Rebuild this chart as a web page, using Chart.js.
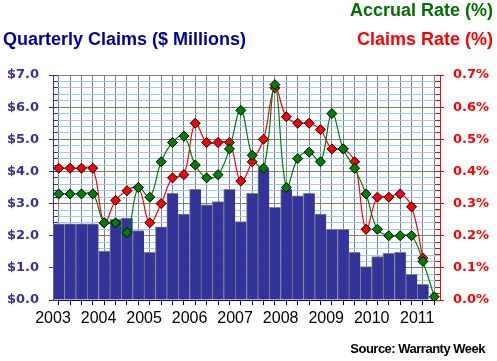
<!DOCTYPE html>
<html><head><meta charset="utf-8">
<script src="https://cdn.jsdelivr.net/npm/chart.js@4/dist/chart.umd.min.js"></script>
<style>
html,body{margin:0;padding:0;background:#fff;}
#wrap{position:relative;width:497px;height:361px;overflow:hidden;background:#fff;}
#c{position:absolute;left:0;top:0;}
.t{position:absolute;font-family:"Liberation Sans",Arial,sans-serif;font-weight:bold;white-space:nowrap;}
</style></head><body>
<div id="wrap">
<canvas id="c" width="497" height="361"></canvas>
<div class="t" style="right:4px;top:1px;font-size:18px;line-height:18px;color:#007000">Accrual Rate (%)</div>
<div class="t" style="right:4px;top:30px;font-size:18px;line-height:18px;color:#ff0000">Claims Rate (%)</div>
<div class="t" style="left:3px;top:30px;font-size:18px;line-height:18px;color:#000099">Quarterly Claims ($ Millions)</div>
<div class="t" style="right:12px;top:342px;font-size:13px;line-height:13px;color:#000;letter-spacing:-0.5px">Source: Warranty Week</div>
</div>
<script>
// ---- data ----
const years = ['2003','2004','2005','2006','2007','2008','2009','2010','2011'];
const quarters = ['2003Q1','2003Q2','2003Q3','2003Q4','2004Q1','2004Q2','2004Q3','2004Q4',
  '2005Q1','2005Q2','2005Q3','2005Q4','2006Q1','2006Q2','2006Q3','2006Q4',
  '2007Q1','2007Q2','2007Q3','2007Q4','2008Q1','2008Q2','2008Q3','2008Q4',
  '2009Q1','2009Q2','2009Q3','2009Q4','2010Q1','2010Q2','2010Q3','2010Q4',
  '2011Q1','2011Q2'];
const claims = [2.37,2.37,2.37,2.37, 1.52,2.51,2.55,2.16, 1.48,2.28,3.32,2.67,
  3.44,2.96,3.06,3.44, 2.44,3.32,4.07,2.88, 3.44,3.24,3.32,2.67,
  2.20,2.20,1.48,1.04, 1.35,1.45,1.48,0.80, 0.49,null];
const accrualRate = [0.33,0.33,0.33,0.33, 0.24,0.24,0.21,0.35, 0.32,0.43,0.49,0.51,
  0.42,0.38,0.39,0.47, 0.59,0.45,0.41,0.67, 0.35,0.44,0.46,0.43,
  0.58,0.47,0.41,0.33, 0.22,0.20,0.20,0.20, 0.12,0.01];
const claimsRate = [0.41,0.41,0.41,0.41, 0.24,0.31,0.34,0.35, 0.24,0.30,0.38,0.39,
  0.55,0.49,0.49,0.49, 0.37,0.43,0.50,0.66, 0.57,0.55,0.55,0.53,
  0.47,0.47,0.43,0.22, 0.32,0.32,0.33,0.29, 0.13,null];
const leftTicks = [0,1,2,3,4,5,6,7];        // $ millions (major)
const rightTicks = [0,0.1,0.2,0.3,0.4,0.5,0.6,0.7]; // % (major)
const minorPerMajor = 5;

// ---- build ----
const toXY = arr => arr.map((v,i)=>({x:i+0.5,y:v}));
function buildTicks(majors){
  const out=[];
  for(let m=0;m<majors.length;m++){
    out.push({value:majors[m], major:true});
    if(m<majors.length-1){
      const step=(majors[m+1]-majors[m])/minorPerMajor;
      for(let k=1;k<minorPerMajor;k++) out.push({value:majors[m]+step*k, major:false});
    }
  }
  return out;
}
const yTicks = buildTicks(leftTicks), y1Ticks = buildTicks(rightTicks);

const innerTicks = {
  id:'innerTicks',
  beforeDatasetsDraw(chart){
    const ctx=chart.ctx, a=chart.chartArea, y=chart.scales.y, y1=chart.scales.y1;
    ctx.save(); ctx.lineWidth=1;
    ctx.strokeStyle='#333399';
    y.ticks.forEach(t=>{const p=Math.round(y.getPixelForValue(t.value)-0.5)+0.5;
      ctx.beginPath();ctx.moveTo(a.left,p);ctx.lineTo(a.left+5,p);ctx.stroke();});
    ctx.strokeStyle='#ff0000';
    y1.ticks.forEach(t=>{const p=Math.round(y1.getPixelForValue(t.value)-0.5)+0.5;
      ctx.beginPath();ctx.moveTo(a.right-5,p);ctx.lineTo(a.right,p);ctx.stroke();});
    ctx.restore();
  }
};

new Chart(document.getElementById('c'),{
  data:{
    datasets:[
      {type:'line',label:'Accrual Rate (%)',data:toXY(accrualRate),yAxisID:'y1',order:1,
        borderColor:'#008000',borderWidth:1.2,tension:0.4,
        pointStyle:'rectRot',pointRadius:5,pointBackgroundColor:'#008000',pointBorderColor:'#000',pointBorderWidth:1,spanGaps:false},
      {type:'line',label:'Claims Rate (%)',data:toXY(claimsRate),yAxisID:'y1',order:2,
        borderColor:'#ff0000',borderWidth:1.2,tension:0.4,
        pointStyle:'rectRot',pointRadius:5,pointBackgroundColor:'#ff0000',pointBorderColor:'#000',pointBorderWidth:1},
      {type:'bar',label:'Quarterly Claims',data:toXY(claims),yAxisID:'y',order:3,
        backgroundColor:'#333399',borderColor:'#808080',borderWidth:{top:1,left:1,right:0,bottom:0},borderSkipped:false,
        barPercentage:1,categoryPercentage:1}
    ]
  },
  options:{
    responsive:false,animation:false,devicePixelRatio:1,
    layout:{padding:{top:75,left:0,right:0,bottom:0}},
    plugins:{legend:{display:false},tooltip:{enabled:false},title:{display:false}},
    events:[],
    scales:{
      x:{type:'linear',position:'bottom',min:0,max:quarters.length,offset:false,
        afterBuildTicks:s=>{s.ticks=quarters.map((q,i)=>({value:i})).concat([{value:quarters.length}]);},
        afterFit:s=>{s.height=61;},
        grid:{color:'#808080',lineWidth:1,tickColor:'#000',tickLength:5,drawTicks:true},
        border:{color:'#000066',width:1},
        ticks:{autoSkip:false,maxRotation:0,minRotation:0,padding:4,color:'#000',
          font:{family:'"Liberation Sans", Arial, sans-serif',size:16},
          callback:(v,i)=> (i%4===0 && years[i/4]) ? years[i/4] : ''}
      },
      y:{type:'linear',position:'left',min:0,max:7,
        afterBuildTicks:s=>{s.ticks=yTicks.map(t=>({value:t.value}));},
        afterFit:s=>{s.width=53;},
        grid:{color:c=>yTicks[c.index]&&yTicks[c.index].major?'#808080':'#99CCFF',
          tickColor:c=>yTicks[c.index]&&yTicks[c.index].major?'#333399':'rgba(0,0,0,0)',tickLength:4,lineWidth:1},
        border:{color:'#333399',width:1},
        ticks:{autoSkip:false,padding:10,color:'#333399',
          font:{family:'"DejaVu Sans", Verdana, sans-serif',size:13,weight:'bold'},
          callback:(v,i)=> yTicks[i].major ? '$'+v.toFixed(1) : ''}
      },
      y1:{type:'linear',position:'right',min:0,max:0.7,
        afterBuildTicks:s=>{s.ticks=y1Ticks.map(t=>({value:t.value}));},
        afterFit:s=>{s.width=57;},
        grid:{drawOnChartArea:false,
          tickColor:c=>y1Ticks[c.index]&&y1Ticks[c.index].major?'#ff0000':'rgba(0,0,0,0)',tickLength:4,lineWidth:1},
        border:{color:'#ff0000',width:1},
        ticks:{autoSkip:false,padding:9,color:'#ff0000',
          font:{family:'"DejaVu Sans", Verdana, sans-serif',size:13,weight:'bold'},
          callback:(v,i)=> y1Ticks[i].major ? v.toFixed(1)+'%' : ''}
      }
    }
  },
  plugins:[innerTicks]
});
</script>
</body></html>
